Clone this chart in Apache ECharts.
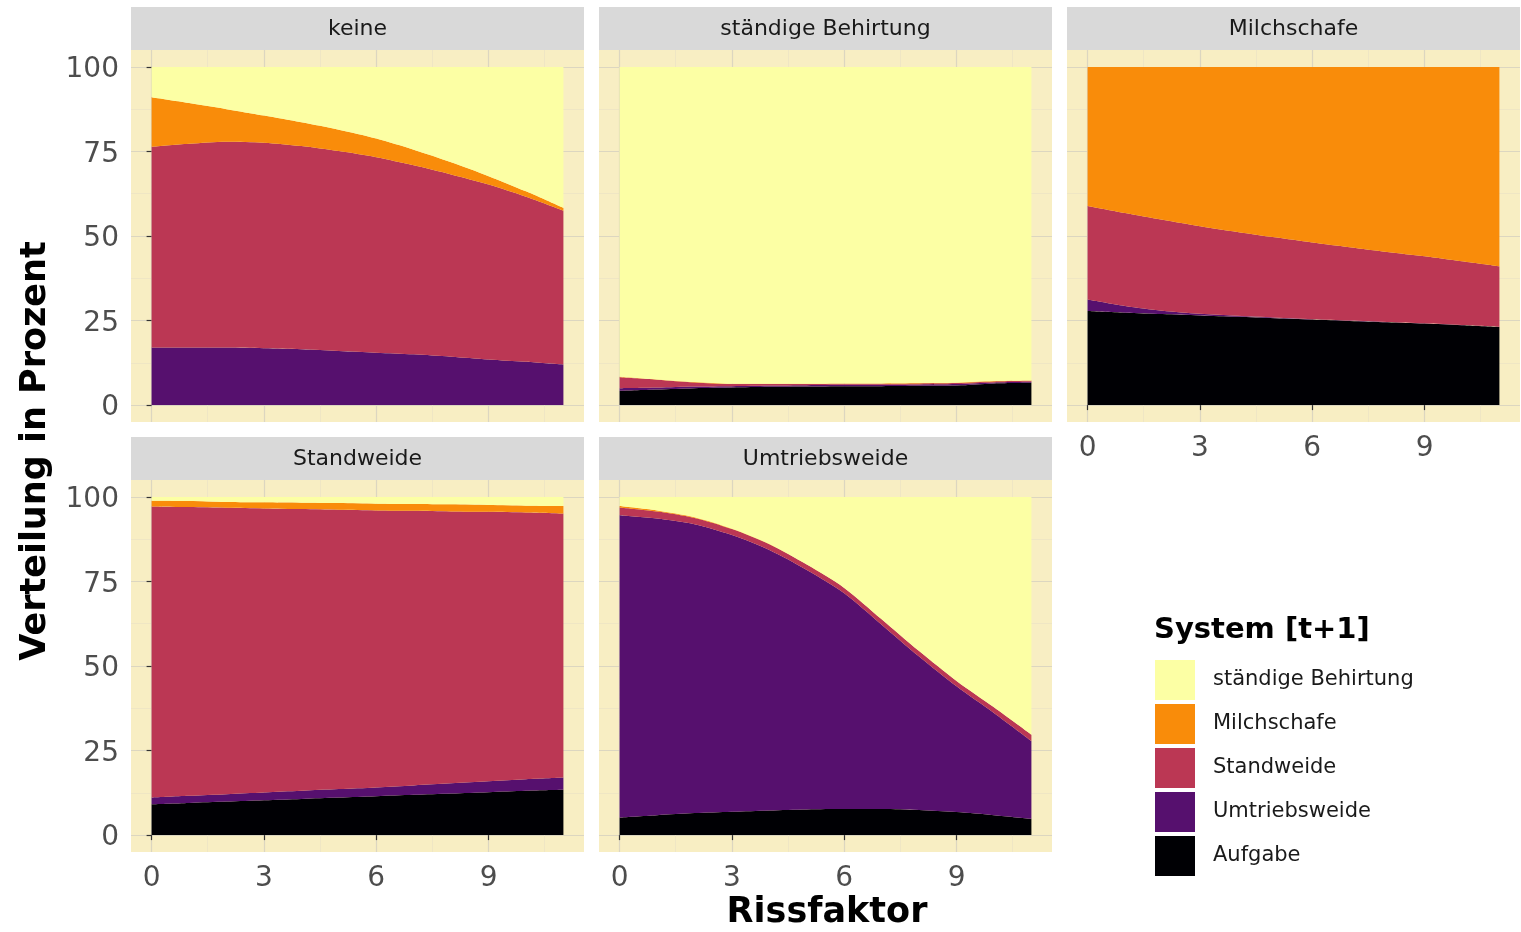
<!DOCTYPE html>
<html>
<head>
<meta charset="utf-8">
<title>Verteilung nach Rissfaktor</title>
<script src="https://cdn.jsdelivr.net/npm/echarts@6/dist/echarts.min.js"></script>
<style>
  html, body { margin: 0; padding: 0; background: #ffffff; }
  #chart { width: 1521px; height: 932px; }
</style>
</head>
<body>
<div id="chart"></div>
<script>
// ---- data -------------------------------------------------------------
const rissfaktor = [0, 1, 2, 3, 4, 5, 6, 7, 8, 9, 10, 11];

// facets: system in year t
const facetNames = ['keine', 'ständige Behirtung', 'Milchschafe', 'Standweide', 'Umtriebsweide'];

// systems in year t+1, in stacking order (bottom to top)
const systemNames = ['Aufgabe', 'Umtriebsweide', 'Standweide', 'Milchschafe', 'ständige Behirtung'];
const systemColors = ['#000004', '#56106E', '#BB3754', '#F98C0A', '#FCFFA4'];
const legendOrder = ['ständige Behirtung', 'Milchschafe', 'Standweide', 'Umtriebsweide', 'Aufgabe'];

const yTicks = [0, 25, 50, 75, 100];
const yMinorTicks = [12.5, 37.5, 62.5, 87.5];
const xTicks = [0, 3, 6, 9];
const xMinorTicks = [1.5, 4.5, 7.5, 10.5];

// shares in percent, facet "keine"
const keineAufgabe       = [0, 0, 0, 0, 0, 0, 0, 0, 0, 0, 0, 0];
const keineUmtriebsweide = [17.0, 17.0, 17.0, 16.8, 16.5, 16.0, 15.5, 15.0, 14.3, 13.5, 12.8, 12.0];
const keineStandweide    = [59.4, 60.3, 60.9, 60.8, 60.1, 59.1, 57.8, 55.9, 53.9, 51.7, 48.8, 45.5];
const keineMilchschafe   = [14.6, 12.0, 9.6, 8.0, 7.0, 6.3, 5.5, 4.6, 3.6, 2.5, 1.6, 0.8];
const keineBehirtung     = [9.0, 10.7, 12.5, 14.4, 16.4, 18.6, 21.2, 24.5, 28.2, 32.3, 36.8, 41.7];

// facet "ständige Behirtung"
const behirtungAufgabe       = [4.2, 4.6, 5.0, 5.2, 5.4, 5.5, 5.6, 5.6, 5.7, 5.8, 6.4, 6.6];
const behirtungUmtriebsweide = [0.8, 0.6, 0.5, 0.4, 0.4, 0.4, 0.4, 0.4, 0.4, 0.4, 0.3, 0.3];
const behirtungStandweide    = [3.2, 2.3, 1.2, 0.6, 0.4, 0.3, 0.3, 0.3, 0.3, 0.3, 0.3, 0.3];
const behirtungMilchschafe   = [0.2, 0.1, 0.1, 0.1, 0.1, 0.1, 0.1, 0.1, 0.1, 0.1, 0.1, 0.1];
const behirtungBehirtung     = [91.6, 92.4, 93.2, 93.7, 93.7, 93.7, 93.6, 93.6, 93.5, 93.4, 92.9, 92.7];

// facet "Milchschafe"
const milchAufgabe       = [27.8, 27.3, 26.9, 26.5, 26.1, 25.7, 25.3, 24.9, 24.5, 24.1, 23.6, 23.1];
const milchUmtriebsweide = [3.4, 2.0, 1.0, 0.5, 0.3, 0.2, 0.1, 0.1, 0.1, 0.1, 0.1, 0.1];
const milchStandweide    = [27.7, 27.5, 26.9, 25.9, 24.8, 23.7, 22.7, 21.7, 20.7, 19.8, 18.8, 17.8];
const milchMilchschafe   = [41.1, 43.2, 45.2, 47.1, 48.8, 50.4, 51.9, 53.3, 54.7, 56.0, 57.5, 59.0];
const milchBehirtung     = [0, 0, 0, 0, 0, 0, 0, 0, 0, 0, 0, 0];

// facet "Standweide"
const standAufgabe       = [9.1, 9.5, 9.9, 10.3, 10.7, 11.1, 11.5, 11.9, 12.3, 12.7, 13.1, 13.4];
const standUmtriebsweide = [2.0, 2.1, 2.2, 2.3, 2.4, 2.5, 2.6, 2.8, 3.0, 3.2, 3.4, 3.6];
const standStandweide    = [86.1, 85.4, 84.7, 84.0, 83.3, 82.6, 81.9, 81.2, 80.4, 79.7, 78.9, 78.1];
const standMilchschafe   = [1.7, 1.8, 1.7, 1.8, 1.9, 2.0, 2.0, 2.0, 2.1, 2.0, 2.0, 2.2];
const standBehirtung     = [1.1, 1.2, 1.5, 1.6, 1.7, 1.8, 2.0, 2.1, 2.2, 2.4, 2.6, 2.7];

// facet "Umtriebsweide"
const umtriebAufgabe       = [5.2, 5.9, 6.5, 6.9, 7.3, 7.6, 7.7, 7.7, 7.4, 6.8, 5.9, 4.8];
const umtriebUmtriebsweide = [89.4, 87.7, 85.4, 81.8, 77.0, 70.8, 63.8, 54.5, 45.4, 37.2, 30.2, 23.0];
const umtriebStandweide    = [2.3, 2.1, 1.9, 1.8, 1.7, 1.6, 1.6, 1.6, 1.6, 1.6, 1.7, 1.9];
const umtriebMilchschafe   = [0.4, 0.3, 0.2, 0.1, 0.1, 0, 0, 0, 0, 0, 0, 0];
const umtriebBehirtung     = [2.7, 4.0, 6.0, 9.4, 13.9, 20.0, 26.9, 36.2, 45.6, 54.4, 62.2, 70.3];

// per facet, one array per system (same order as systemNames)
const facetData = [
  [keineAufgabe, keineUmtriebsweide, keineStandweide, keineMilchschafe, keineBehirtung],
  [behirtungAufgabe, behirtungUmtriebsweide, behirtungStandweide, behirtungMilchschafe, behirtungBehirtung],
  [milchAufgabe, milchUmtriebsweide, milchStandweide, milchMilchschafe, milchBehirtung],
  [standAufgabe, standUmtriebsweide, standStandweide, standMilchschafe, standBehirtung],
  [umtriebAufgabe, umtriebUmtriebsweide, umtriebStandweide, umtriebMilchschafe, umtriebBehirtung]
];

// ---- layout -----------------------------------------------------------
const FONT = 'DejaVu Sans';
const PANEL_BG = '#F8EEC3';
const GRID_MAJOR = '#DCD6C0';
const GRID_MINOR = '#EBE3C4';
const STRIP_BG = '#D9D9D9';
const colLeft = [131, 599, 1067];
const rowStripTop = [7, 437];
const STRIP_H = 43;
const PANEL_W = 453;
const PANEL_H = 372;
// facet -> [column, row]
const facetPos = [[0, 0], [1, 0], [2, 0], [0, 1], [1, 1]];
// data range and the 5 % expansion ggplot adds on every side
const X_LO = 0, X_HI = 11, Y_LO = 0, Y_HI = 100;
const X_PAD = (X_HI - X_LO) * 0.05, Y_PAD = (Y_HI - Y_LO) * 0.05;

const grids = [], xAxes = [], yAxes = [], series = [], graphics = [];

facetNames.forEach((facet, f) => {
  const [c, r] = facetPos[f];
  const left = colLeft[c];
  const stripTop = rowStripTop[r];
  const top = stripTop + STRIP_H;
  const showY = c === 0;
  const showX = r === 1 || f === 2;

  // panel: background, grid lines, ticks and labels
  const panelGrid = grids.length;
  grids.push({
    left: left, top: top, width: PANEL_W, height: PANEL_H,
    show: true, backgroundColor: PANEL_BG, borderWidth: 0
  });
  xAxes.push({
    type: 'value', gridIndex: panelGrid, min: X_LO - X_PAD, max: X_HI + X_PAD, position: 'bottom',
    axisLine: { show: false },
    axisTick: { show: showX, customValues: xTicks, length: 5, lineStyle: { color: '#333333', width: 1.2 } },
    axisLabel: { show: showX, customValues: xTicks, margin: 13, fontFamily: FONT, fontSize: 28, color: '#4D4D4D' },
    splitLine: { show: true, lineStyle: { color: GRID_MAJOR, width: 1.2 } }
  });
  xAxes.push({
    type: 'value', gridIndex: panelGrid, min: X_LO - X_PAD, max: X_HI + X_PAD, position: 'top',
    axisLine: { show: false },
    axisTick: { show: false, customValues: xMinorTicks },
    axisLabel: { show: false, customValues: xMinorTicks },
    splitLine: { show: true, lineStyle: { color: GRID_MINOR, width: 0.7 } }
  });
  yAxes.push({
    type: 'value', gridIndex: panelGrid, min: Y_LO - Y_PAD, max: Y_HI + Y_PAD, position: 'left',
    axisLine: { show: false },
    axisTick: { show: showY, customValues: yTicks, length: 5, lineStyle: { color: '#333333', width: 1.2 } },
    axisLabel: {
      show: showY, customValues: yTicks, margin: 12,
      formatter: '{v|{value}}',
      rich: { v: { fontFamily: FONT, fontSize: 28, color: '#4D4D4D', padding: [6, 0, 0, 0] } }
    },
    splitLine: { show: true, lineStyle: { color: GRID_MAJOR, width: 1.2 } }
  });
  yAxes.push({
    type: 'value', gridIndex: panelGrid, min: Y_LO - Y_PAD, max: Y_HI + Y_PAD, position: 'right',
    axisLine: { show: false },
    axisTick: { show: false, customValues: yMinorTicks },
    axisLabel: { show: false, customValues: yMinorTicks },
    splitLine: { show: true, lineStyle: { color: GRID_MINOR, width: 0.7 } }
  });

  // data area: the unexpanded range inside the panel, stacked on a category axis
  const spanX = X_HI - X_LO + 2 * X_PAD, spanY = Y_HI - Y_LO + 2 * Y_PAD;
  const dataGrid = grids.length;
  grids.push({
    left: left + PANEL_W * X_PAD / spanX,
    top: top + PANEL_H * Y_PAD / spanY,
    width: PANEL_W * (X_HI - X_LO) / spanX,
    height: PANEL_H * (Y_HI - Y_LO) / spanY,
    show: false
  });
  const xi = xAxes.length, yi = yAxes.length;
  xAxes.push({
    type: 'category', gridIndex: dataGrid, data: rissfaktor.map(String), boundaryGap: false, show: false
  });
  yAxes.push({
    type: 'value', gridIndex: dataGrid, min: Y_LO, max: Y_HI, show: false
  });

  systemNames.forEach((sys, s) => {
    series.push({
      name: sys,
      type: 'line',
      xAxisIndex: xi,
      yAxisIndex: yi,
      stack: 'facet' + f,
      symbol: 'none',
      smooth: 0.3,
      silent: true,
      color: systemColors[s],
      lineStyle: { width: 0 },
      areaStyle: { color: systemColors[s], opacity: 1 },
      z: 3,
      data: facetData[f][s]
    });
  });

  // facet strip
  graphics.push({
    type: 'rect', left: left, top: stripTop, silent: true,
    shape: { width: PANEL_W, height: STRIP_H },
    style: { fill: STRIP_BG }
  });
  graphics.push({
    type: 'text', x: left + PANEL_W / 2, y: stripTop + STRIP_H / 2 + 1, silent: true,
    style: { text: facet, fontFamily: FONT, fontSize: 22, fill: '#1A1A1A', align: 'center', verticalAlign: 'middle' }
  });
});

// axis titles and legend title
graphics.push({
  type: 'text', x: 36, y: 451, rotation: Math.PI / 2, silent: true,
  style: { text: 'Verteilung in Prozent', fontFamily: FONT, fontWeight: 'bold', fontSize: 35, fill: '#000000', align: 'center', verticalAlign: 'middle' }
});
graphics.push({
  type: 'text', x: 827, y: 913, silent: true,
  style: { text: 'Rissfaktor', fontFamily: FONT, fontWeight: 'bold', fontSize: 35, fill: '#000000', align: 'center', verticalAlign: 'middle' }
});
graphics.push({
  type: 'text', x: 1154, y: 630, silent: true,
  style: { text: 'System [t+1]', fontFamily: FONT, fontWeight: 'bold', fontSize: 29, fill: '#000000', align: 'left', verticalAlign: 'middle' }
});

const chart = echarts.init(document.getElementById('chart'), null, { renderer: 'canvas' });
chart.setOption({
  animation: false,
  backgroundColor: '#ffffff',
  grid: grids,
  xAxis: xAxes,
  yAxis: yAxes,
  legend: {
    data: legendOrder,
    orient: 'vertical',
    left: 1155,
    top: 660,
    padding: 0,
    icon: 'rect',
    itemWidth: 40,
    itemHeight: 40,
    itemGap: 4,
    selectedMode: false,
    textStyle: { fontFamily: FONT, fontSize: 21, color: '#1A1A1A', padding: [0, 0, 0, 13] }
  },
  graphic: graphics,
  series: series
});
</script>
</body>
</html>
